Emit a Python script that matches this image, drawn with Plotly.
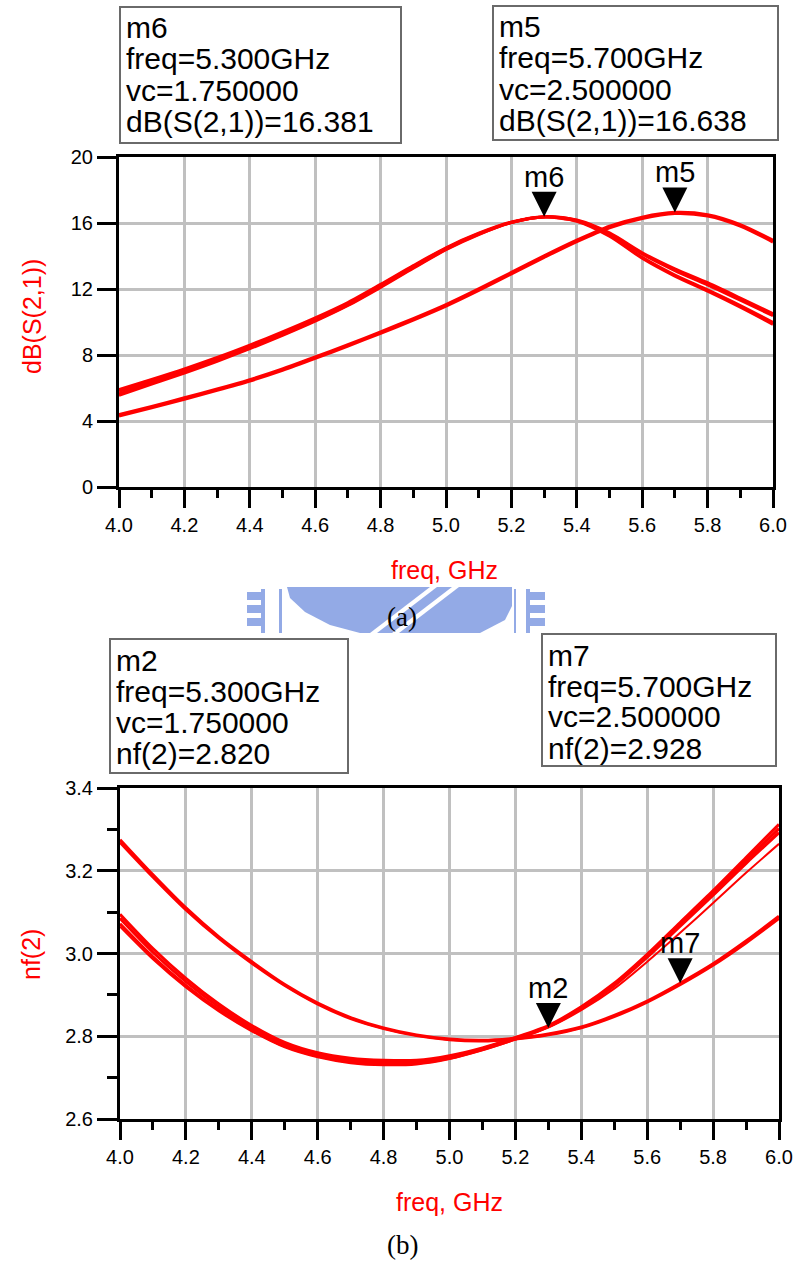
import plotly.graph_objects as go

W, H = 795, 1265

# ---------------- data ----------------
freq = [4.0, 4.1, 4.2, 4.3, 4.4, 4.5, 4.6, 4.7, 4.8, 4.9, 5.0,
        5.1, 5.2, 5.3, 5.4, 5.5, 5.6, 5.7, 5.8, 5.9, 6.0]

# (a) dB(S(2,1)) : bundle of curves (vc around 1.75) and vc = 2.5
s21_a1 = [5.90, 6.52, 7.16, 7.85, 8.60, 9.40, 10.25, 11.18, 12.28, 13.42, 14.50,
          15.38, 16.06, 16.38, 16.18, 15.40, 14.20, 13.22, 12.38, 11.45, 10.50]
s21_a2 = [5.80, 6.44, 7.09, 7.78, 8.53, 9.33, 10.18, 11.12, 12.22, 13.37, 14.46,
          15.35, 16.04, 16.37, 16.16, 15.35, 14.12, 13.12, 12.25, 11.32, 10.38]
s21_a3 = [5.65, 6.32, 6.98, 7.68, 8.44, 9.24, 10.10, 11.04, 12.15, 13.30, 14.41,
          15.32, 16.03, 16.37, 16.13, 15.25, 13.92, 12.85, 11.95, 11.00, 9.98]
s21_a4 = [5.55, 6.24, 6.91, 7.62, 8.38, 9.19, 10.05, 11.00, 12.10, 13.26, 14.38,
          15.30, 16.02, 16.36, 16.11, 15.20, 13.86, 12.78, 11.87, 10.90, 9.86]
s21_b1 = [4.38, 4.88, 5.40, 5.93, 6.50, 7.15, 7.88, 8.62, 9.40, 10.20, 11.05,
          12.00, 13.00, 14.00, 14.95, 15.80, 16.35, 16.638, 16.50, 15.90, 14.95]
s21_b2 = [4.30, 4.80, 5.32, 5.86, 6.43, 7.08, 7.80, 8.55, 9.32, 10.12, 10.97,
          11.92, 12.92, 13.92, 14.88, 15.72, 16.28, 16.58, 16.43, 15.82, 14.85]

# (b) nf(2)
nf_a1 = [3.095, 3.012, 2.940, 2.878, 2.826, 2.785, 2.760, 2.747, 2.742, 2.742, 2.753,
         2.772, 2.797, 2.826, 2.871, 2.928, 2.998, 3.075, 3.152, 3.232, 3.312]
nf_a2 = [3.085, 3.003, 2.932, 2.871, 2.820, 2.780, 2.756, 2.742, 2.737, 2.738, 2.750,
         2.770, 2.795, 2.824, 2.869, 2.925, 2.995, 3.071, 3.147, 3.225, 3.302]
nf_a3 = [3.072, 2.992, 2.923, 2.864, 2.815, 2.776, 2.752, 2.738, 2.733, 2.735, 2.747,
         2.768, 2.793, 2.823, 2.867, 2.922, 2.991, 3.066, 3.141, 3.218, 3.292]
nf_a4 = [3.065, 2.986, 2.918, 2.860, 2.812, 2.773, 2.749, 2.735, 2.730, 2.732, 2.745,
         2.766, 2.792, 2.821, 2.863, 2.915, 2.980, 3.050, 3.122, 3.195, 3.265]
nf_b1 = [3.275, 3.190, 3.110, 3.040, 2.980, 2.925, 2.880, 2.845, 2.820, 2.803, 2.793,
         2.790, 2.795, 2.805, 2.822, 2.850, 2.885, 2.928, 2.975, 3.030, 3.090]
nf_b2 = [3.268, 3.184, 3.105, 3.036, 2.976, 2.922, 2.877, 2.842, 2.818, 2.801, 2.791,
         2.788, 2.793, 2.803, 2.820, 2.847, 2.882, 2.924, 2.971, 3.025, 3.084]

# markers
top_markers = [("m6", 5.3, 16.381), ("m5", 5.7, 16.638)]
bot_markers = [("m2", 5.3, 2.820), ("m7", 5.7, 2.928)]

top_boxes = [
    ["m6", "freq=5.300GHz", "vc=1.750000", "dB(S(2,1))=16.381"],
    ["m5", "freq=5.700GHz", "vc=2.500000", "dB(S(2,1))=16.638"],
]
bot_boxes = [
    ["m2", "freq=5.300GHz", "vc=1.750000", "nf(2)=2.820"],
    ["m7", "freq=5.700GHz", "vc=2.500000", "nf(2)=2.928"],
]

# ---------------- helpers (screen pixels -> paper) ----------------
def px(x):
    return x / W

def py(y):
    return 1 - y / H

RED = "#ff0000"
SANS = "Liberation Sans, Arial, sans-serif"
SERIF = "Liberation Serif, Times New Roman, serif"

fig = go.Figure()

for ys, w in [(s21_a1, 3), (s21_a2, 3), (s21_a3, 3), (s21_a4, 3), (s21_b1, 3.2), (s21_b2, 3.2)]:
    fig.add_trace(go.Scatter(x=freq, y=ys, mode="lines", line=dict(color=RED, width=w, shape="spline", smoothing=0.8),
                             xaxis="x", yaxis="y", showlegend=False, hoverinfo="skip"))
for ys, w in [(nf_a1, 3), (nf_a2, 3), (nf_a3, 3), (nf_a4, 2), (nf_b1, 3.2), (nf_b2, 2.5)]:
    fig.add_trace(go.Scatter(x=freq, y=ys, mode="lines", line=dict(color=RED, width=w, shape="spline", smoothing=0.8),
                             xaxis="x2", yaxis="y2", showlegend=False, hoverinfo="skip"))

tickfont = dict(family=SANS, size=20, color="black")
common_x = dict(range=[4.0, 6.0], tick0=4.0, dtick=0.2, tickformat=".1f", showgrid=True,
                gridcolor="#c0c0c0", gridwidth=3, zeroline=False, showline=True, mirror=True,
                linecolor="black", linewidth=3, ticks="outside", ticklen=18, tickwidth=3,
                tickcolor="black", tickfont=tickfont, fixedrange=True, automargin=False,
                ticklabeloverflow="allow",
                minor=dict(dtick=0.1, ticks="outside", ticklen=8, tickwidth=3, tickcolor="black", showgrid=False))

fig.update_layout(
    width=W, height=H, margin=dict(l=0, r=0, t=0, b=0, pad=0, autoexpand=False),
    paper_bgcolor="white", plot_bgcolor="white", showlegend=False,
    xaxis=dict(domain=[px(119), px(773)], anchor="y", **common_x),
    yaxis=dict(domain=[py(487), py(157)], anchor="x", range=[0, 20], tick0=0, dtick=4,
               showgrid=True, gridcolor="#c0c0c0", gridwidth=3, zeroline=False, showline=True,
               mirror=True, linecolor="black", linewidth=3, ticks="outside", ticklen=19,
               tickwidth=3, tickcolor="black", tickfont=tickfont, fixedrange=True, automargin=False),
    xaxis2=dict(domain=[px(120), px(779)], anchor="y2", **common_x),
    yaxis2=dict(domain=[py(1119), py(788)], anchor="x2", range=[2.6, 3.4], tick0=2.6, dtick=0.2,
                tickformat=".1f", showgrid=True, gridcolor="#c0c0c0", gridwidth=3, zeroline=False,
                showline=True, mirror=True, linecolor="black", linewidth=3, ticks="outside",
                ticklen=20, tickwidth=3, tickcolor="black", tickfont=tickfont, fixedrange=True,
                automargin=False,
                minor=dict(dtick=0.1, ticks="outside", ticklen=10, tickwidth=3, tickcolor="black",
                           showgrid=False)),
)

annotations = []
shapes = []

def text_at(t, x, y, size, color="black", family=SANS, angle=0, xanchor="center"):
    annotations.append(dict(text=t, x=px(x), y=py(y), xref="paper", yref="paper",
                            xanchor=xanchor, yanchor="middle", textangle=angle, showarrow=False,
                            font=dict(family=family, size=size, color=color)))

# axis titles
text_at("dB(S(2,1))", 32, 317, 25, RED, angle=-90)
text_at("freq, GHz", 444, 570, 25, RED)
text_at("nf(2)", 31, 955, 25, RED, angle=-90)
text_at("freq, GHz", 449, 1202, 25, RED)

# watermark (decorative)
WM = "#93aae6"
def ppath(pts):
    s = ""
    for i, (a, b) in enumerate(pts):
        s += ("M" if i == 0 else "L") + f"{px(a):.5f},{py(b):.5f}"
    return s + "Z"

def prect(x0, y0, x1, y1, color):
    shapes.append(dict(type="rect", xref="paper", yref="paper", x0=px(x0), x1=px(x1),
                       y0=py(y1), y1=py(y0), fillcolor=color, line=dict(width=0), layer="below"))

for yy in [(592, 600), (605, 613), (618, 626)]:
    prect(247, yy[0], 261, yy[1], WM)
prect(261, 589, 265, 633, WM)
prect(279, 589, 282, 633, WM)
shapes.append(dict(type="path", xref="paper", yref="paper", layer="below",
                   path=ppath([(287, 587), (512, 587), (512, 606), (505, 620), (480, 633),
                               (360, 633), (330, 625), (305, 612), (290, 598)]),
                   fillcolor=WM, line=dict(width=0)))
shapes.append(dict(type="path", xref="paper", yref="paper", layer="below",
                   path=ppath([(430, 587), (437, 587), (377, 633), (370, 633)]),
                   fillcolor="white", line=dict(width=0)))
shapes.append(dict(type="path", xref="paper", yref="paper", layer="below",
                   path=ppath([(452, 587), (459, 587), (399, 633), (392, 633)]),
                   fillcolor="white", line=dict(width=0)))
for yy in [(592, 600), (605, 613), (618, 626)]:
    prect(530, yy[0], 545, yy[1], WM)
prect(526, 589, 530, 633, WM)
prect(514, 589, 516, 633, WM)

# captions
text_at("(a)", 402, 617, 27, family=SERIF)
text_at("(b)", 402, 1245, 27, family=SERIF)

# marker info boxes
box_geom_top = [(120, 7, 401, 143), (493, 6, 778, 140)]
box_geom_bot = [(110, 639, 348, 773), (542, 634, 776, 766)]
for lines, (x0, y0, x1, y1) in list(zip(top_boxes, box_geom_top)) + list(zip(bot_boxes, box_geom_bot)):
    shapes.append(dict(type="rect", xref="paper", yref="paper", x0=px(x0), x1=px(x1),
                       y0=py(y1), y1=py(y0), line=dict(color="#6a6a6a", width=2),
                       fillcolor="rgba(0,0,0,0)"))
    for i, t in enumerate(lines):
        text_at(t, x0 + 4, y0 + 21 + i * 31, 30, xanchor="left")

# marker triangles + labels
for name, fx, fy in top_markers:
    annotations.append(dict(text=name, x=fx, y=fy, xref="x", yref="y", showarrow=True,
                            arrowhead=2, arrowsize=2, arrowwidth=2.5, arrowcolor="black",
                            ax=0, ay=-40, standoff=0, font=dict(family=SANS, size=29, color="black")))
for name, fx, fy in bot_markers:
    annotations.append(dict(text=name, x=fx, y=fy, xref="x2", yref="y2", showarrow=True,
                            arrowhead=2, arrowsize=2, arrowwidth=2.5, arrowcolor="black",
                            ax=0, ay=-40, standoff=0, font=dict(family=SANS, size=29, color="black")))

fig.update_layout(annotations=annotations, shapes=shapes)
fig.write_html("out.html", config={"displayModeBar": False},
               post_script="document.body.style.margin='0px';document.body.style.overflow='hidden';")
